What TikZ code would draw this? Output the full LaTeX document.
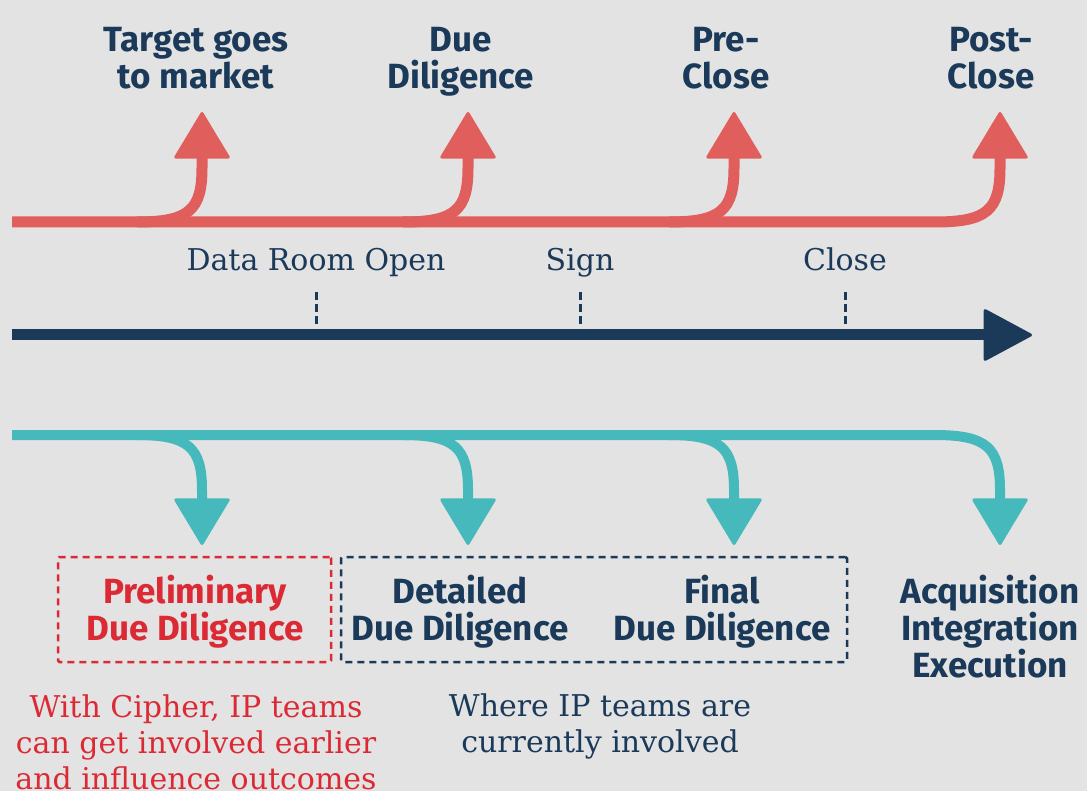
\documentclass[tikz,border=0pt]{standalone}
\usepackage{fontspec}
\usetikzlibrary{arrows.meta}
\newfontfamily\headfont{Fira Sans}
\newfontfamily\bodyfont{DejaVu Serif}
\definecolor{bgc}{HTML}{E3E3E3}
\definecolor{coral}{HTML}{E05E5B}
\definecolor{navy}{HTML}{1B3A5A}
\definecolor{tealc}{HTML}{45B9BB}
\definecolor{alertc}{HTML}{DC2A35}
\begin{document}
\begin{tikzpicture}[x=1pt,y=-1pt,
  head/.style={font=\headfont\bfseries\fontsize{35}{37}\selectfont, text=navy, align=center, anchor=base, inner sep=0pt},
  body/.style={font=\bodyfont\fontsize{30}{36}\selectfont, text=navy, align=center, anchor=base, inner sep=0pt},
  redline/.style={line width=11pt, draw=coral},
  navyline/.style={line width=11pt, draw=navy},
  tealline/.style={line width=10pt, draw=tealc},
  bigtip/.tip={Triangle[width=57pt,length=48pt,round,line width=3pt]},
  tick/.style={draw=navy, line width=3pt, dash pattern=on 8pt off 4pt},
  framebox/.style={line width=2.5pt, dash pattern=on 7pt off 5pt, rounded corners=1.5pt, inner sep=0pt}
]
\useasboundingbox[fill=bgc] (0,0) rectangle (1087,791);

% upper track: market stages
\coordinate (r0) at (12,222);
\coordinate (r1s) at (137,222); \coordinate (r1m) at (202,168); \coordinate (r1t) at (202,112);
\coordinate (r2s) at (403,222); \coordinate (r2m) at (468,168); \coordinate (r2t) at (468,112);
\coordinate (r3s) at (669,222); \coordinate (r3m) at (734,168); \coordinate (r3t) at (734,112);
\coordinate (r4s) at (935,222); \coordinate (r4m) at (1000,168); \coordinate (r4t) at (1000,112);

\draw[redline, -bigtip] (r0) -- (r4s) .. controls +(52,0) and +(0,42) .. (r4m) -- (r4t);
\foreach \i in {1,2,3}
  \draw[redline, -bigtip] (r\i s) .. controls +(52,0) and +(0,42) .. (r\i m) -- (r\i t);

\node[head] (lmarket) at (196,89) {Target goes\\to market};
\node[head] (ldue) at (461,89) {Due\\Diligence};
\node[head] (lpre) at (726,89) {Pre-\\Close};
\node[head] (lpost) at (991,89) {Post-\\Close};

% middle track: deal milestones
\coordinate (n0) at (12,335);
\coordinate (n1) at (1032,335);
\draw[navyline, -{Triangle[width=53pt,length=50pt,round,line width=3pt]}] (n0) -- (n1);

\node[body] (mdata) at (316,271) {Data Room Open};
\node[body] (msign) at (580,271) {Sign};
\node[body] (mclose) at (845,271) {Close};
\foreach \m/\x in {mdata/316, msign/580, mclose/845}
  \draw[tick] (\x,292) -- (\x,325);

% lower track: diligence phases
\coordinate (t0) at (12,435);
\coordinate (t1s) at (137,435); \coordinate (t1m) at (202,490); \coordinate (t1t) at (202,545);
\coordinate (t2s) at (403,435); \coordinate (t2m) at (468,490); \coordinate (t2t) at (468,545);
\coordinate (t3s) at (669,435); \coordinate (t3m) at (734,490); \coordinate (t3t) at (734,545);
\coordinate (t4s) at (935,435); \coordinate (t4m) at (1000,490); \coordinate (t4t) at (1000,545);

\draw[tealline, -bigtip] (t0) -- (t4s) .. controls +(52,0) and +(0,-42) .. (t4m) -- (t4t);
\foreach \i in {1,2,3}
  \draw[tealline, -bigtip] (t\i s) .. controls +(52,0) and +(0,-42) .. (t\i m) -- (t\i t);

% phase boxes
\node[framebox, draw=alertc, minimum width=273pt, minimum height=105pt] (prebox) at (194.5,609.5) {};
\node[framebox, draw=navy, minimum width=506pt, minimum height=105pt] (curbox) at (594,609.5) {};

\node[head, text=alertc] (pprelim) at (195,640) {Preliminary\\Due Diligence};
\node[head] (pdetail) at (460,640) {Detailed\\Due Diligence};
\node[head] (pfinal) at (722,640) {Final\\Due Diligence};
\node[head] (pacq) at (990,677) {Acquisition\\Integration\\Execution};

\node[body, text=alertc] (ncipher) at (196,789) {With Cipher, IP teams\\can get involved earlier\\and influence outcomes};
\node[body] (ncurrent) at (600,752) {Where IP teams are\\currently involved};
\end{tikzpicture}
\end{document}
